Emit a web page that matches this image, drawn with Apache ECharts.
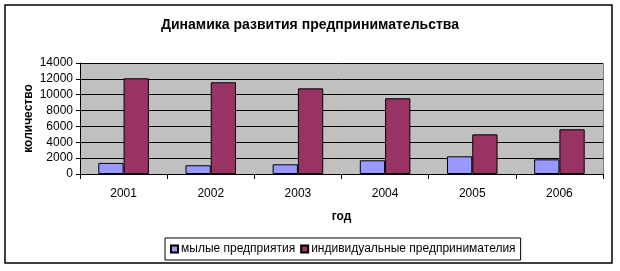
<!DOCTYPE html>
<html><head><meta charset="utf-8">
<script src="https://cdn.jsdelivr.net/npm/echarts@6/dist/echarts.min.js"></script>
<style>html,body{margin:0;padding:0;background:#fff}#c{width:620px;height:271px}</style>
</head><body><div id="c"></div>
<script>
const categories = ['2001','2002','2003','2004','2005','2006'];
const seriesNames = ['мылые предприятия','индивидуальные предпринимателия'];
const smallEnterprises = [1400, 1100, 1220, 1730, 2230, 1850];
const individualEntrepreneurs = [12070, 11570, 10800, 9550, 5000, 5640];
const yTicks = [0, 2000, 4000, 6000, 8000, 10000, 12000, 14000];

const chart = echarts.init(document.getElementById('c'), null, {renderer:'canvas'});
const font = 'Liberation Sans, Arial, sans-serif';
chart.setOption({
  animation: false,
  textStyle: {fontFamily: font},
  graphic: [
    {type:'rect', shape:{x:5, y:5, width:607, height:258}, style:{fill:'none', stroke:'#000', lineWidth:1.5}, z:-10},
    {type:'rect', shape:{x:80.5, y:63.5, width:523, height:111}, style:{fill:'none', stroke:'#808080', lineWidth:1}, z:-1}
  ],
  title: {
    text: 'Динамика развития предпринимательства',
    left: 'center', top: 13,
    textStyle: {fontFamily: font, fontSize: 14, fontWeight: 'bold', color: '#000'}
  },
  legend: {
    left: 165, top: 238, width: 353,
    backgroundColor: '#fff', borderColor: '#000', borderWidth: 1,
    padding: [5, 5, 5, 5],
    itemWidth: 7, itemHeight: 7, itemGap: 5,
    icon: 'rect',
    textStyle: {fontFamily: font, fontSize: 12, color: '#000', padding: [0,0,0,-2]},
    data: seriesNames
  },
  grid: {left: 80, right: 17, top: 63, bottom: 97, backgroundColor: '#c0c0c0', show: true, borderWidth: 0},
  xAxis: {
    type: 'category', data: categories,
    name: 'год', nameLocation: 'middle', nameGap: 37, nameMoveOverlap: false,
    nameTextStyle: {fontFamily: font, fontSize: 12, fontWeight: 'bold', color: '#000'},
    axisLine: {lineStyle: {color: '#000', width: 1}},
    axisTick: {show: true, length: 5, lineStyle: {color: '#000'}},
    axisLabel: {fontFamily: font, fontSize: 12, color: '#000', margin: 14}
  },
  yAxis: {
    type: 'value', min: 0, max: 14000, interval: 2000,
    name: 'количество', nameLocation: 'middle', nameGap: 45, nameRotate: 90, nameMoveOverlap: false,
    nameTextStyle: {fontFamily: font, fontSize: 12, fontWeight: 'bold', color: '#000'},
    axisLine: {show: true, lineStyle: {color: '#000', width: 1}},
    axisTick: {show: true, length: 4, lineStyle: {color: '#000'}},
    axisLabel: {fontFamily: font, fontSize: 12, color: '#000', margin: 7,
      formatter: v => yTicks.includes(v) ? String(v) : ''},
    splitLine: {show: true, lineStyle: {color: '#000', width: 1}}
  },
  series: [
    {name: seriesNames[0], type: 'bar', data: smallEnterprises, barGap: '0%', barCategoryGap: '42%',
     itemStyle: {color: '#9999ff', borderColor: '#000', borderWidth: 1}},
    {name: seriesNames[1], type: 'bar', data: individualEntrepreneurs,
     itemStyle: {color: '#993366', borderColor: '#000', borderWidth: 1}}
  ]
});
</script></body></html>
